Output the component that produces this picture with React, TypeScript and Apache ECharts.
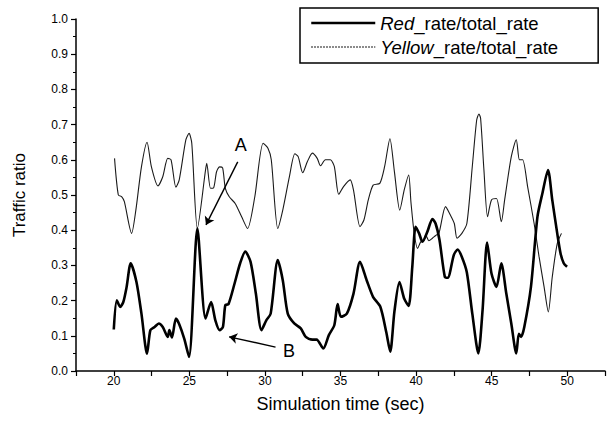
import React, { useEffect, useRef } from "react";
import * as echarts from "echarts";

const seriesNames = ["Red_rate/total_rate", "Yellow_rate/total_rate"];

const redX = [20.0, 20.2, 20.42, 20.63, 20.85, 21.12, 21.5, 21.83, 22.2, 22.42, 22.7, 22.98, 23.24, 23.57, 23.68, 23.85, 24.11, 24.33, 24.66, 24.98, 25.53, 26.07, 26.44, 26.72, 27.0, 27.22, 27.38, 27.59, 28.0, 28.36, 28.7, 29.05, 29.4, 29.77, 30.09, 30.38, 30.85, 31.18, 31.51, 31.94, 32.37, 32.7, 33.14, 33.42, 33.86, 34.23, 34.59, 34.81, 35.03, 35.42, 35.86, 36.29, 36.73, 37.16, 37.64, 38.03, 38.29, 38.57, 38.9, 39.22, 39.51, 39.75, 39.97, 40.2, 40.42, 40.75, 41.08, 41.29, 41.55, 41.9, 42.1, 42.5, 42.75, 43.03, 43.36, 43.72, 44.12, 44.4, 44.7, 44.99, 45.32, 45.64, 45.97, 46.3, 46.63, 46.8, 46.95, 47.16, 47.6, 48.03, 48.36, 48.73, 49.01, 49.34, 49.56, 49.77, 49.99];
const redY = [0.118, 0.201, 0.182, 0.196, 0.239, 0.306, 0.253, 0.163, 0.049, 0.116, 0.125, 0.135, 0.125, 0.097, 0.116, 0.095, 0.149, 0.133, 0.092, 0.04, 0.405, 0.149, 0.196, 0.144, 0.116, 0.125, 0.187, 0.19, 0.25, 0.306, 0.339, 0.31, 0.22, 0.116, 0.144, 0.163, 0.315, 0.258, 0.163, 0.135, 0.121, 0.097, 0.089, 0.089, 0.064, 0.102, 0.13, 0.19, 0.154, 0.163, 0.22, 0.31, 0.258, 0.21, 0.182, 0.11, 0.055, 0.17, 0.253, 0.205, 0.185, 0.296, 0.41, 0.391, 0.367, 0.396, 0.432, 0.419, 0.372, 0.268, 0.265, 0.33, 0.345, 0.324, 0.28, 0.163, 0.05, 0.173, 0.365, 0.277, 0.239, 0.306, 0.22, 0.135, 0.05, 0.106, 0.097, 0.125, 0.239, 0.438, 0.505, 0.571, 0.486, 0.391, 0.334, 0.306, 0.296];

const yellowX = [20.05, 20.3, 20.53, 20.7, 21.18, 21.46, 21.83, 22.2, 22.49, 22.92, 23.24, 23.57, 23.79, 24.11, 24.33, 24.77, 24.98, 25.16, 25.53, 26.07, 26.15, 26.4, 26.6, 26.8, 27.0, 27.2, 27.38, 27.64, 28.03, 28.46, 28.85, 29.33, 29.88, 30.2, 30.42, 30.85, 31.18, 31.62, 31.98, 32.2, 32.5, 32.81, 33.14, 33.46, 33.68, 34.0, 34.33, 34.59, 34.88, 35.2, 35.64, 35.86, 36.29, 36.55, 36.84, 37.16, 37.6, 37.92, 38.27, 38.57, 38.92, 39.22, 39.51, 39.66, 39.88, 40.1, 40.31, 40.5, 40.64, 40.85, 41.08, 41.3, 41.51, 41.95, 42.27, 42.53, 42.71, 43.03, 43.36, 43.72, 44.01, 44.16, 44.27, 44.49, 44.73, 44.99, 45.32, 45.64, 45.86, 46.3, 46.63, 46.84, 47.05, 47.38, 47.81, 48.14, 48.47, 48.75, 49.01, 49.34, 49.62];
const yellowY = [0.604, 0.5, 0.495, 0.481, 0.391, 0.457, 0.58, 0.65, 0.58, 0.526, 0.552, 0.604, 0.6, 0.522, 0.543, 0.657, 0.675, 0.647, 0.405, 0.571, 0.59, 0.519, 0.52, 0.566, 0.58, 0.577, 0.519, 0.495, 0.476, 0.438, 0.405, 0.495, 0.647, 0.633, 0.6, 0.405, 0.457, 0.552, 0.617, 0.609, 0.563, 0.595, 0.619, 0.604, 0.583, 0.6, 0.6, 0.581, 0.502, 0.524, 0.543, 0.514, 0.41, 0.429, 0.486, 0.528, 0.533, 0.581, 0.66, 0.565, 0.457, 0.515, 0.557, 0.48, 0.39, 0.348, 0.367, 0.37, 0.386, 0.37, 0.377, 0.385, 0.391, 0.467, 0.443, 0.419, 0.377, 0.391, 0.419, 0.581, 0.713, 0.73, 0.718, 0.571, 0.438, 0.486, 0.49, 0.424, 0.486, 0.609, 0.657, 0.6, 0.6, 0.524, 0.419, 0.324, 0.239, 0.168, 0.267, 0.362, 0.391];

const xTickLabels = [20, 25, 30, 35, 40, 45, 50];

// annotation arrows: [start, end] in data coordinates, arrow head at end
const arrowA = [[28.2, 0.594], [26.1, 0.415]];
const arrowB = [[30.7, 0.068], [27.63, 0.097]];
const annotationNames = ["A", "B"];
const annotationCoords = [[28.4, 0.643], [31.6, 0.058]];

const FONT = "'Liberation Sans', Arial, Helvetica, sans-serif";
const HIDDEN = { color: "rgba(0,0,0,0)", borderColor: "rgba(0,0,0,0)", borderWidth: 0, opacity: 0 };

export default function App() {
  const ref = useRef<HTMLDivElement>(null);
  useEffect(() => {
    document.body.style.margin = "0";
    if (!ref.current) return;
    const chart = echarts.init(ref.current, undefined, { renderer: "svg" });
    const redData = redX.map((x, i) => [x, redY[i]]);
    const yellowData = yellowX.map((x, i) => [x, yellowY[i]]);
    chart.setOption({
      animation: false,
      backgroundColor: "#fff",
      textStyle: { fontFamily: FONT, color: "#000" },
      grid: { left: 76, right: -4, top: 19, bottom: 58 },
      legend: {
        orient: "vertical",
        left: 300,
        top: 8,
        padding: [5, 40, 6, 10],
        itemGap: 4,
        itemWidth: 64,
        itemHeight: 14,
        borderColor: "#000",
        borderWidth: 1.5,
        borderRadius: 0,
        backgroundColor: "#fff",
        itemStyle: HIDDEN,
        data: [
          { name: seriesNames[0], itemStyle: HIDDEN, lineStyle: { color: "#000", width: 2.5, opacity: 1 } },
          { name: seriesNames[1], itemStyle: HIDDEN, lineStyle: { color: "#333", width: 1.5, type: "dotted", opacity: 1 } },
        ],
        formatter: (name: string) => {
          const idx = name.indexOf("_");
          return `{i|${name.slice(0, idx)}}{n|${name.slice(idx)}}`;
        },
        textStyle: {
          fontFamily: FONT,
          fontSize: 18.5,
          color: "#000",
          lineHeight: 20,
          rich: {
            i: { fontFamily: FONT, fontSize: 18.5, fontStyle: "italic", color: "#000", lineHeight: 20 },
            n: { fontFamily: FONT, fontSize: 18.5, color: "#000", lineHeight: 20 },
          },
        },
      },
      xAxis: {
        type: "value",
        min: 17.5,
        max: 52.5,
        interval: 2.5,
        name: "Simulation time (sec)",
        nameLocation: "middle",
        nameGap: 24,
        nameTextStyle: { fontFamily: FONT, fontSize: 18, color: "#000" },
        axisLine: { show: true, lineStyle: { color: "#000", width: 1.5 } },
        axisTick: { show: true, length: 5, lineStyle: { color: "#000", width: 1.2 } },
        axisLabel: {
          fontFamily: FONT,
          fontSize: 12,
          color: "#000",
          margin: 4,
          formatter: (v: number) => (xTickLabels.indexOf(v) >= 0 ? String(v) : ""),
        },
        splitLine: { show: false },
      },
      yAxis: {
        type: "value",
        min: 0,
        max: 1,
        interval: 0.1,
        name: "Traffic ratio",
        nameLocation: "middle",
        nameGap: 48,
        nameTextStyle: { fontFamily: FONT, fontSize: 17, color: "#000" },
        axisLine: { show: true, lineStyle: { color: "#000", width: 1.5 } },
        axisTick: { show: true, length: 5, lineStyle: { color: "#000", width: 1.2 } },
        minorTick: { show: true, splitNumber: 2, length: 3, lineStyle: { color: "#000", width: 1 } },
        axisLabel: {
          fontFamily: FONT,
          fontSize: 12,
          color: "#000",
          margin: 8,
          formatter: (v: number) => v.toFixed(1),
        },
        splitLine: { show: false },
      },
      series: [
        {
          name: seriesNames[0],
          type: "line",
          data: redData,
          symbol: "none",
          smooth: 0.25,
          lineStyle: { color: "#000", width: 2.6 },
          itemStyle: { color: "#000" },
          z: 3,
        },
        {
          name: seriesNames[1],
          type: "line",
          data: yellowData,
          symbol: "none",
          smooth: 0.25,
          lineStyle: { color: "#1a1a1a", width: 1.1 },
          itemStyle: { color: "#333" },
          z: 2,
          markLine: {
            silent: true,
            symbol: ["none", "arrow"],
            symbolSize: 8,
            label: { show: false },
            lineStyle: { color: "#000", width: 1.4, type: "solid" },
            data: [
              [{ coord: arrowA[0] }, { coord: arrowA[1] }],
              [{ coord: arrowB[0] }, { coord: arrowB[1] }],
            ],
          },
          markPoint: {
            silent: true,
            symbol: "circle",
            symbolSize: 1,
            itemStyle: { color: "rgba(0,0,0,0)" },
            label: {
              show: true,
              position: "inside",
              fontFamily: FONT,
              fontSize: 18,
              color: "#000",
              formatter: (p: any) => p.name,
            },
            data: annotationNames.map((n, i) => ({ name: n, coord: annotationCoords[i] })),
          },
        },
      ],
    });
    return () => chart.dispose();
  }, []);
  return <div ref={ref} style={{ width: 608, height: 429 }} />;
}
